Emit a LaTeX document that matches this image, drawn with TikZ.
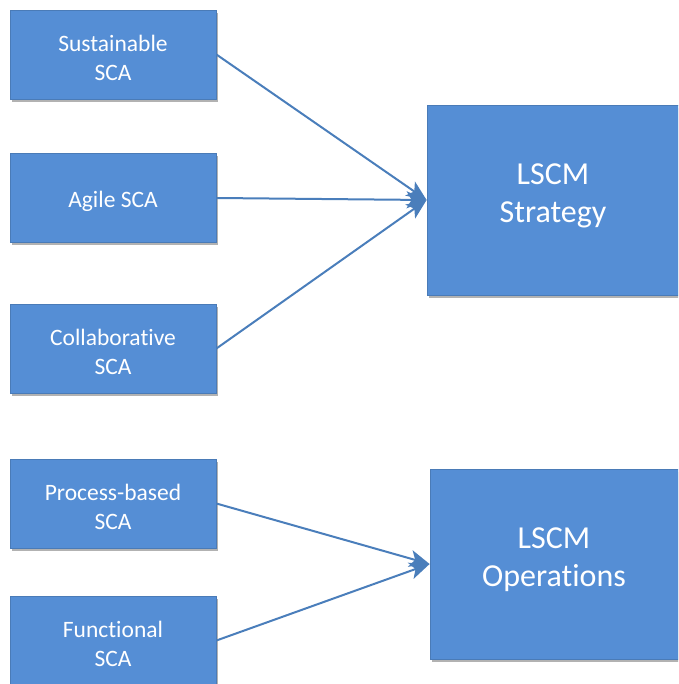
\documentclass[tikz,border=0pt]{standalone}
\usepackage{fontspec}
\setmainfont{Carlito}[Ligatures={NoCommon,NoRare,NoDiscretionary}]
\usetikzlibrary{arrows.meta,shadows}
\definecolor{boxc}{HTML}{558ED5}
\definecolor{bordc}{HTML}{4A7BB7}
\definecolor{arrc}{HTML}{4A7EBB}
\tikzset{
  boxbase/.style={draw=bordc, line width=0.8pt, fill=boxc, align=center,
    drop shadow={shadow xshift=2pt, shadow yshift=-3pt, opacity=0.3, fill=black}},
  sca/.style={boxbase, minimum width=206pt, minimum height=89pt},
  lscm/.style={boxbase, minimum height=190pt},
  smalltxt/.style={text=white, align=center, font=\fontsize{23.5}{29}\selectfont, yshift=-3.5pt},
  bigtxt/.style={text=white, align=center, font=\fontsize{32}{38}\selectfont, yshift=4pt},
  conn/.style={draw=arrc, line width=2pt,
    -{Stealth[length=20pt, width=17pt, inset=5pt]}}
}
\begin{document}
\begin{tikzpicture}[x=1pt, y=-1pt]
  \useasboundingbox (0,0) rectangle (678,684);
  \clip (0,0) rectangle (678,684);
  \node[sca, label={[smalltxt]center:Sustainable\\SCA}] (s1) at (113,54.5) {};
  \node[sca, label={[smalltxt]center:Agile SCA}] (s2) at (113,198) {};
  \node[sca, label={[smalltxt]center:Collaborative\\SCA}] (s3) at (113,348.5) {};
  \node[sca, label={[smalltxt]center:Process-based\\SCA}] (p1) at (113,503.5) {};
  \node[sca, label={[smalltxt]center:Functional\\SCA}] (p2) at (113,640.5) {};
  \node[lscm, minimum width=252pt, label={[bigtxt]center:LSCM\\Strategy}] (l1) at (553,200) {};
  \node[lscm, minimum width=248pt, label={[bigtxt]center:LSCM\\Operations}] (l2) at (554,564) {};
  \draw[conn] (s1.east) -- (l1.west);
  \draw[conn] (s2.east) -- (l1.west);
  \draw[conn] (s3.east) -- (l1.west);
  \draw[conn] (p1.east) -- (l2.west);
  \draw[conn] (p2.east) -- (l2.west);
\end{tikzpicture}
\end{document}
